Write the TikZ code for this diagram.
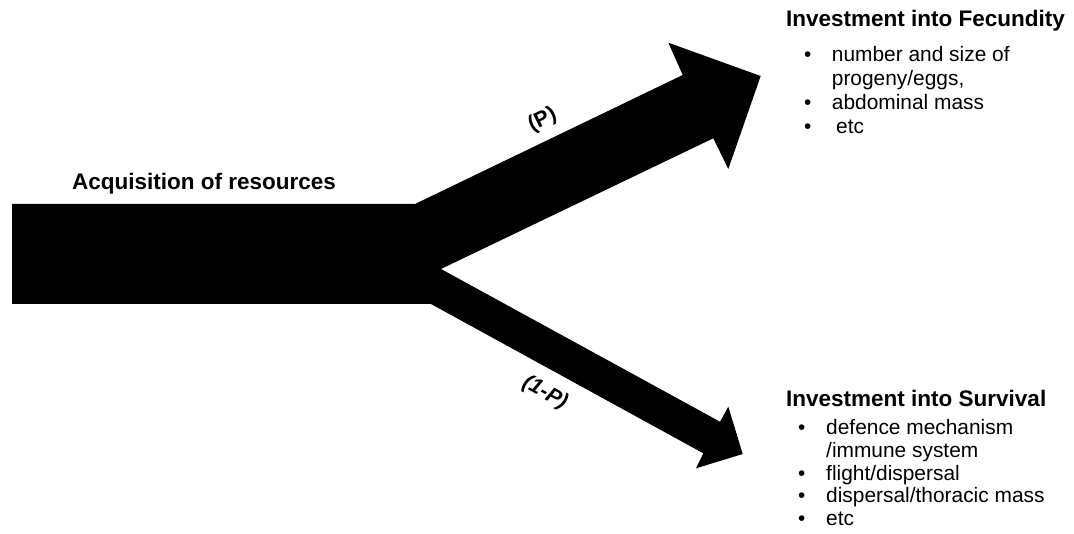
\documentclass[tikz,border=0pt]{standalone}
\usepackage{fontspec}
\setmainfont{Liberation Sans}
\begin{document}
\begin{tikzpicture}[x=1pt,y=-1pt,
  title/.style={anchor=base west,inner sep=0pt,font=\fontsize{22.5}{27}\selectfont\bfseries},
  item/.style={anchor=base west,inner sep=0pt,font=\fontsize{20.9}{24}\selectfont},
  blt/.style={anchor=base west,inner sep=0pt,font=\fontsize{20.7}{24}\selectfont},
  plabel/.style={inner sep=0pt,font=\fontsize{21.5}{24}\selectfont\bfseries}]
\useasboundingbox (0,0) rectangle (1074,534);
% arrow shape
\fill[black] (12,204) -- (415,204) -- (682.7,75) -- (668.3,42.7) -- (760.7,76)
  -- (728.3,169) -- (713.3,138.3) -- (441,269) -- (720,421.7) -- (728.3,406.7)
  -- (742.7,454) -- (696,468.3) -- (703.3,453.3) -- (431,304) -- (12,304) -- cycle;
% labels
\node[title] (acq) at (72,190) {Acquisition of resources};
\node[plabel,rotate=26] (p) at (542.5,120) {(P)};
\node[plabel,rotate=-29] (q) at (545,393) {\itshape (1-P)};
% fecundity
\node[title] (fec) at (786,27) {Investment into Fecundity};
\node[blt] (fb1) at (804,62) {•};
\node[item] (f1) at (831.7,62) {number and size of};
\node[item] (f2) at (831.7,86) {progeny/eggs,};
\node[blt] (fb2) at (804,110) {•};
\node[item] (f3) at (831.7,110) {abdominal mass};
\node[blt] (fb3) at (804,133.5) {•};
\node[item] (f4) at (836,133.5) {etc};
% survival
\node[title] (sur) at (786,406.5) {Investment into Survival};
\node[blt] (sb1) at (798,435) {•};
\node[item] (s1) at (826,435) {defence mechanism};
\node[item] (s2) at (826,457) {/immune system};
\node[blt] (sb2) at (798,480) {•};
\node[item] (s3) at (826,480) {flight/dispersal};
\node[blt] (sb3) at (798,502.5) {•};
\node[item] (s4) at (826,502.5) {dispersal/thoracic mass};
\node[blt] (sb4) at (798,525) {•};
\node[item] (s5) at (826,525) {etc};
\end{tikzpicture}
\end{document}
